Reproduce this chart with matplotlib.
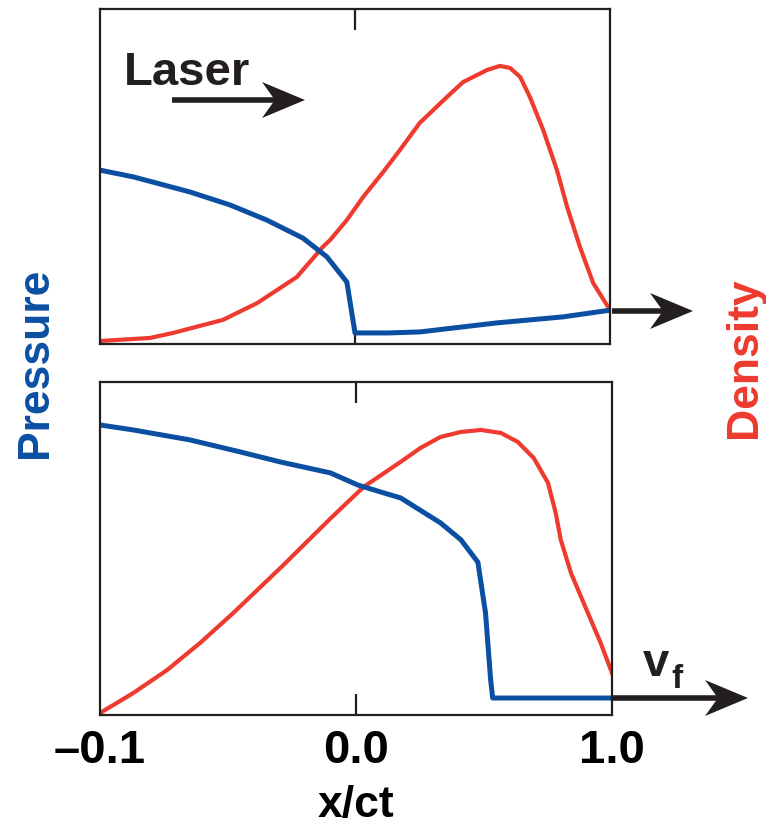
import matplotlib.pyplot as plt
from matplotlib.patches import Polygon

plt.rcParams['font.family'] = ['Liberation Sans', 'DejaVu Sans']
plt.rcParams['font.weight'] = 'bold'

BLUE = '#0b4fa3'
RED = '#ee3a2f'
INK = '#231f20'

# posicion normalizada a lo largo de x/ct (0 = -0.1, 0.5 = 0.0, 1 = 1.0)
tick_pos = [0.0, 0.5, 1.0]
tick_labels = ['\u20130.1', '0.0', '1.0']

# panel superior
presion_sup_x = [0.0, 0.065, 0.176, 0.255, 0.327, 0.398, 0.445, 0.484, 0.500,
                 0.565, 0.627, 0.778, 0.908, 1.0]
presion_sup_y = [0.519, 0.499, 0.454, 0.415, 0.370, 0.316, 0.260, 0.185, 0.033,
                 0.033, 0.036, 0.063, 0.081, 0.101]
densidad_sup_x = [0.0, 0.098, 0.143, 0.241, 0.308, 0.347, 0.386, 0.437, 0.451,
                  0.484, 0.516, 0.555, 0.588, 0.627, 0.680, 0.712, 0.759, 0.784,
                  0.804, 0.824, 0.843, 0.869, 0.896, 0.916, 0.941, 0.967, 0.994,
                  1.0]
densidad_sup_y = [0.009, 0.018, 0.033, 0.072, 0.122, 0.161, 0.200, 0.290, 0.310,
                  0.370, 0.439, 0.513, 0.579, 0.660, 0.737, 0.782, 0.818, 0.830,
                  0.824, 0.797, 0.737, 0.639, 0.519, 0.409, 0.290, 0.182, 0.116,
                  0.104]

# panel inferior
presion_inf_x = [0.0, 0.065, 0.176, 0.274, 0.352, 0.450, 0.503, 0.554, 0.587,
                 0.665, 0.705, 0.738, 0.753, 0.763, 0.767, 1.0]
presion_inf_y = [0.871, 0.856, 0.826, 0.790, 0.760, 0.727, 0.691, 0.667, 0.652,
                 0.577, 0.526, 0.459, 0.306, 0.105, 0.051, 0.051]
densidad_inf_x = [0.0, 0.065, 0.131, 0.196, 0.260, 0.358, 0.450, 0.515, 0.587,
                  0.626, 0.665, 0.705, 0.744, 0.783, 0.816, 0.847, 0.875, 0.890,
                  0.900, 0.920, 0.953, 0.978, 1.0]
densidad_inf_y = [0.006, 0.066, 0.135, 0.217, 0.306, 0.450, 0.590, 0.685, 0.760,
                  0.802, 0.835, 0.850, 0.856, 0.847, 0.820, 0.772, 0.697, 0.607,
                  0.526, 0.426, 0.306, 0.216, 0.126]

W, H = 766, 830
fig = plt.figure(figsize=(W / 100, H / 100), dpi=100)


def fx(px):
    return px / W


def fy(py):
    return 1 - py / H


def flecha(x0, x1, y, largo, ancho, lw=4):
    # linea + punta tipo "stealth", en pixeles de la imagen
    fig.add_artist(plt.Line2D([fx(x0), fx(x1 - largo * 0.5)], [fy(y), fy(y)],
                              color=INK, lw=lw, solid_capstyle='butt'))
    pts = [(x1, y), (x1 - largo, y - ancho), (x1 - largo * 0.7, y), (x1 - largo, y + ancho)]
    fig.add_artist(Polygon([(fx(a), fy(b)) for a, b in pts], closed=True,
                           facecolor=INK, edgecolor='none'))


def panel(rect, px, py, dx, dy, etiquetas):
    ax = fig.add_axes(rect)
    ax.plot(dx, dy, color=RED, lw=3.0, solid_joinstyle='round')
    ax.plot(px, py, color=BLUE, lw=3.6, solid_joinstyle='round')
    ax.set_xlim(0, 1)
    ax.set_ylim(0, 1)
    ax.set_yticks([])
    ax.set_xticks(tick_pos)
    ax.tick_params(axis='x', direction='in', top=True, length=15, width=1.6,
                   color=INK, labelsize=34, pad=10, labelbottom=etiquetas)
    for i, t in enumerate(ax.xaxis.get_major_ticks()):
        if i != 1:
            t.tick1line.set_visible(False)
            t.tick2line.set_visible(False)
    for s in ax.spines.values():
        s.set_color(INK)
        s.set_linewidth(1.6)
    if etiquetas:
        ax.set_xticklabels(tick_labels)
        ax.set_xlabel('x/ct', fontsize=32, fontweight='bold', labelpad=9)
    return ax


ax1 = panel([fx(100), fy(344), fx(610) - fx(100), fy(9) - fy(344)],
            presion_sup_x, presion_sup_y, densidad_sup_x, densidad_sup_y, False)
ax2 = panel([fx(100), fy(715), fx(612) - fx(100), fy(382) - fy(715)],
            presion_inf_x, presion_inf_y, densidad_inf_x, densidad_inf_y, True)

fig.text(fx(124), fy(85), 'Laser', fontsize=34, color=INK, ha='left', va='baseline')
flecha(172, 305, 100, 43, 18)
flecha(612, 693, 311, 43, 18)
flecha(612, 748, 698, 43, 18)
fig.text(fx(643), fy(676), 'v', fontsize=34, color=INK, ha='left', va='baseline')
fig.text(fx(671), fy(688), 'f', fontsize=24, color=INK, ha='left', va='baseline')

fig.text(fx(47), fy(363), 'Pressure', fontsize=32, color=BLUE, rotation=90,
         rotation_mode='anchor', ha='center', va='baseline')
fig.text(fx(756), fy(358), 'Density', fontsize=32, color=RED, rotation=90,
         rotation_mode='anchor', ha='center', va='baseline')

fig.savefig('out.png', dpi=100)
